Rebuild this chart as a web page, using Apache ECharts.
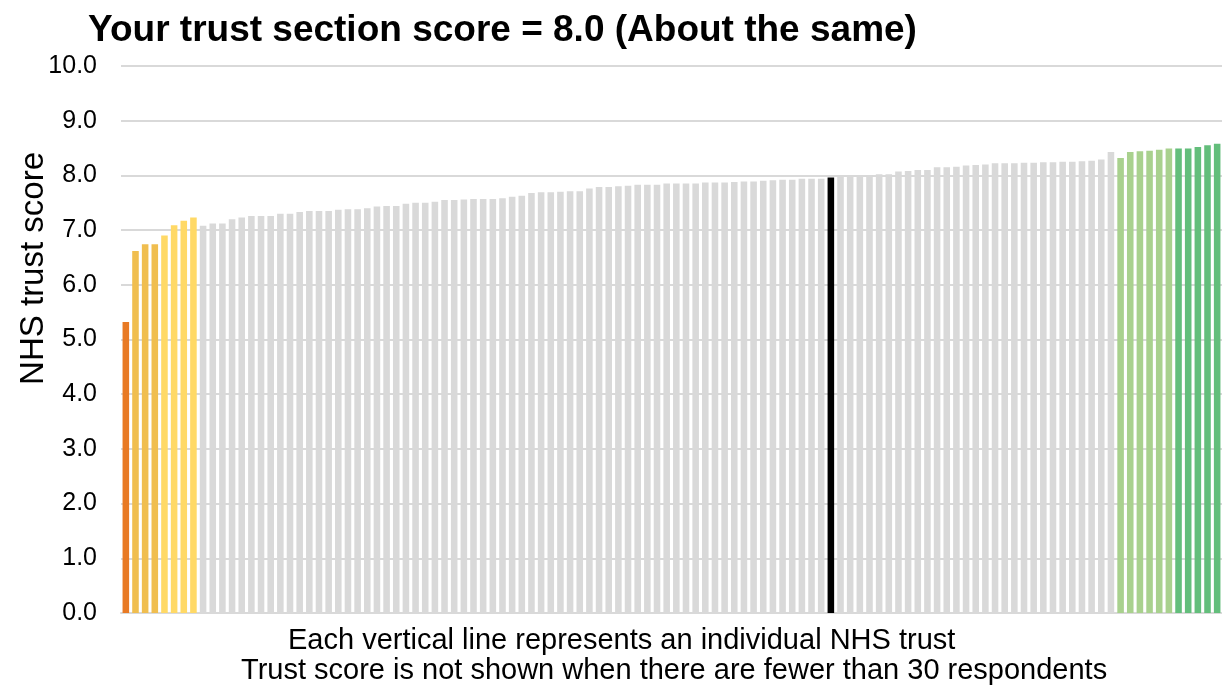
<!DOCTYPE html>
<html>
<head>
<meta charset="utf-8">
<script src="https://cdn.jsdelivr.net/npm/echarts@6/dist/echarts.min.js"></script>
<style>
html,body{margin:0;padding:0;background:#fff;}
#chart{width:1222px;height:685px;}
</style>
</head>
<body>
<div id="chart"></div>
<script>
// Title and text
var titleText = 'Your trust section score = 8.0 (About the same)';
var yAxisName = 'NHS trust score';
var noteLine1 = 'Each vertical line represents an individual NHS trust';
var noteLine2 = 'Trust score is not shown when there are fewer than 30 respondents';

// Y axis ticks
var yTicks = [0, 1, 2, 3, 4, 5, 6, 7, 8, 9, 10];

// Trust scores, sorted as in the picture (one value per NHS trust)
var scores = [
  5.32, 6.62, 6.74, 6.74, 6.90, 7.09, 7.17, 7.23,
  7.08, 7.12, 7.12, 7.20, 7.23, 7.26, 7.26, 7.26, 7.30, 7.30,
  7.33, 7.35, 7.35, 7.35, 7.37, 7.38, 7.38, 7.40, 7.43, 7.44,
  7.44, 7.48, 7.50, 7.50, 7.52, 7.55, 7.55, 7.56, 7.57, 7.57,
  7.57, 7.58, 7.61, 7.63, 7.68, 7.69, 7.69, 7.70, 7.71, 7.71,
  7.76, 7.79, 7.79, 7.80, 7.81, 7.83, 7.83, 7.83, 7.85, 7.85,
  7.85, 7.85, 7.87, 7.87, 7.87, 7.88, 7.89, 7.89, 7.90, 7.91,
  7.92, 7.92, 7.94, 7.94, 7.94, 7.96,
  7.98, 7.99, 7.99, 8.00, 8.02, 8.02, 8.07, 8.08, 8.10, 8.10,
  8.15, 8.15, 8.16, 8.18, 8.19, 8.20, 8.22, 8.22, 8.22, 8.23,
  8.23, 8.24, 8.24, 8.25, 8.25, 8.26, 8.27, 8.29, 8.43,
  8.32, 8.43, 8.44, 8.45, 8.47, 8.49,
  8.49, 8.49, 8.52, 8.55, 8.58
];

// Band of each trust: A=much worse, B=worse, C=somewhat worse, N=about the same,
// Y=your trust, G=somewhat better, H=better
var bandCodes = ('ABBBCCCC' +
  'NNNNNNNNNN' + 'NNNNNNNNNN' + 'NNNNNNNNNN' + 'NNNNNNNNNN' +
  'NNNNNNNNNN' + 'NNNNNNNNNN' + 'NNNNNY' +
  'NNNNNNNNNN' + 'NNNNNNNNNN' + 'NNNNNNNNN' +
  'GGGGGG' + 'HHHHH').split('');

var bandColors = {
  A: '#E87A24',
  B: '#F0BE4F',
  C: '#FFD966',
  N: '#D9D9D9',
  Y: '#000000',
  G: '#A9D18E',
  H: '#63BE7B'
};

var categories = scores.map(function (v, i) { return 'Trust ' + (i + 1); });

var chart = echarts.init(document.getElementById('chart'), null, {renderer: 'canvas'});
var FONT = 'Liberation Sans, Arial, sans-serif';

chart.setOption({
  animation: false,
  backgroundColor: '#ffffff',
  title: {
    text: titleText,
    left: 83,
    top: 7,
    textStyle: {fontFamily: FONT, fontSize: 37, fontWeight: 'bold', color: '#000'}
  },
  grid: {left: 121, right: 0, top: 66, bottom: 72, containLabel: false},
  xAxis: {
    type: 'category',
    data: categories,
    axisLine: {show: true, lineStyle: {color: '#D9D9D9', width: 2}},
    axisTick: {show: false},
    axisLabel: {show: false},
    splitLine: {show: false}
  },
  yAxis: {
    type: 'value',
    min: yTicks[0],
    max: yTicks[yTicks.length - 1],
    interval: 1,
    axisLine: {show: false},
    axisTick: {show: false},
    axisLabel: {
      fontFamily: FONT, fontSize: 25, color: '#000', margin: 24,
      formatter: function (v) { return v.toFixed(1); }
    },
    splitLine: {show: true, lineStyle: {color: '#D9D9D9', width: 2}}
  },
  series: [{
    type: 'bar',
    data: scores.map(function (v, i) {
      return {value: v, itemStyle: {color: bandColors[bandCodes[i]]}};
    }),
    barCategoryGap: '32%',
    silent: true
  }],
  graphic: [
    {
      type: 'text', left: 17, top: 152, rotation: Math.PI / 2,
      style: {text: yAxisName, fontFamily: FONT, fontSize: 33, fill: '#000'}
    },
    {
      type: 'text', left: 288, top: 626,
      style: {text: noteLine1, fontFamily: FONT, fontSize: 29, fill: '#000'}
    },
    {
      type: 'text', left: 241, top: 656,
      style: {text: noteLine2, fontFamily: FONT, fontSize: 29, fill: '#000'}
    }
  ]
});
</script>
</body>
</html>
